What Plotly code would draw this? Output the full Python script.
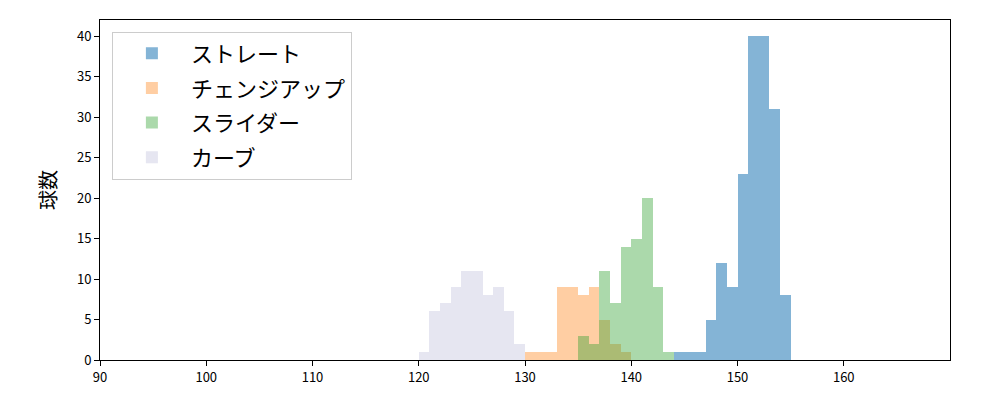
import plotly.graph_objects as go

# bins are 1 km/h wide, left edges listed
straight_bins = [144, 145, 146, 147, 148, 149, 150, 151, 152, 153, 154]
straight_counts = [1, 1, 1, 5, 12, 9, 23, 40, 40, 31, 8]

changeup_bins = [130, 131, 132, 133, 134, 135, 136, 137, 138, 139]
changeup_counts = [1, 1, 1, 9, 9, 8, 9, 5, 2, 1]

slider_bins = [135, 136, 137, 138, 139, 140, 141, 142, 143]
slider_counts = [3, 2, 11, 7, 14, 15, 20, 9, 1]

curve_bins = [120, 121, 122, 123, 124, 125, 126, 127, 128, 129]
curve_counts = [1, 6, 7, 9, 11, 11, 8, 9, 6, 2]

series = [
    ("ストレート", straight_bins, straight_counts, "rgba(31,119,180,0.55)"),
    ("チェンジアップ", changeup_bins, changeup_counts, "rgba(255,127,14,0.38)"),
    ("スライダー", slider_bins, slider_counts, "rgba(44,160,44,0.4)"),
    ("カーブ", curve_bins, curve_counts, "rgba(200,200,225,0.45)"),
]

fig = go.Figure()
for name, bins, counts, color in series:
    fig.add_trace(go.Bar(
        x=bins, y=counts, name=name,
        legendgroup=name,
        width=1, offset=0,
        marker=dict(color=color, line=dict(width=0)),
    ))

font = "Noto Sans CJK JP"
# page body has an 8px margin, so the figure is a bit smaller than the window
fig.update_layout(
    width=984, height=384,
    barmode="overlay",
    bargap=0,
    paper_bgcolor="white",
    plot_bgcolor="white",
    margin=dict(l=92, r=42, t=12, b=32),
    font=dict(family=font, size=13, color="black"),
    showlegend=True,
    legend=dict(
        x=0.014, y=0.966, xanchor="left", yanchor="top",
        bgcolor="rgba(255,255,255,0.8)",
        bordercolor="#cccccc", borderwidth=1,
        font=dict(family=font, size=22),
        itemwidth=68,
        tracegroupgap=3,
    ),
    xaxis=dict(
        range=[90, 170],
        tickvals=[90, 100, 110, 120, 130, 140, 150, 160],
        ticks="outside", ticklen=5, tickcolor="black",
        showline=True, linecolor="black", linewidth=1, mirror=True,
        showgrid=False, zeroline=False, automargin=False,
    ),
    yaxis=dict(
        range=[0, 42],
        tickvals=[0, 5, 10, 15, 20, 25, 30, 35, 40],
        ticks="outside", ticklen=5, tickcolor="black",
        showline=True, linecolor="black", linewidth=1, mirror=True,
        showgrid=False, zeroline=False, automargin=False,
        title=dict(text="球数", font=dict(family=font, size=20), standoff=14),
    ),
)

fig.write_html("out.html")
